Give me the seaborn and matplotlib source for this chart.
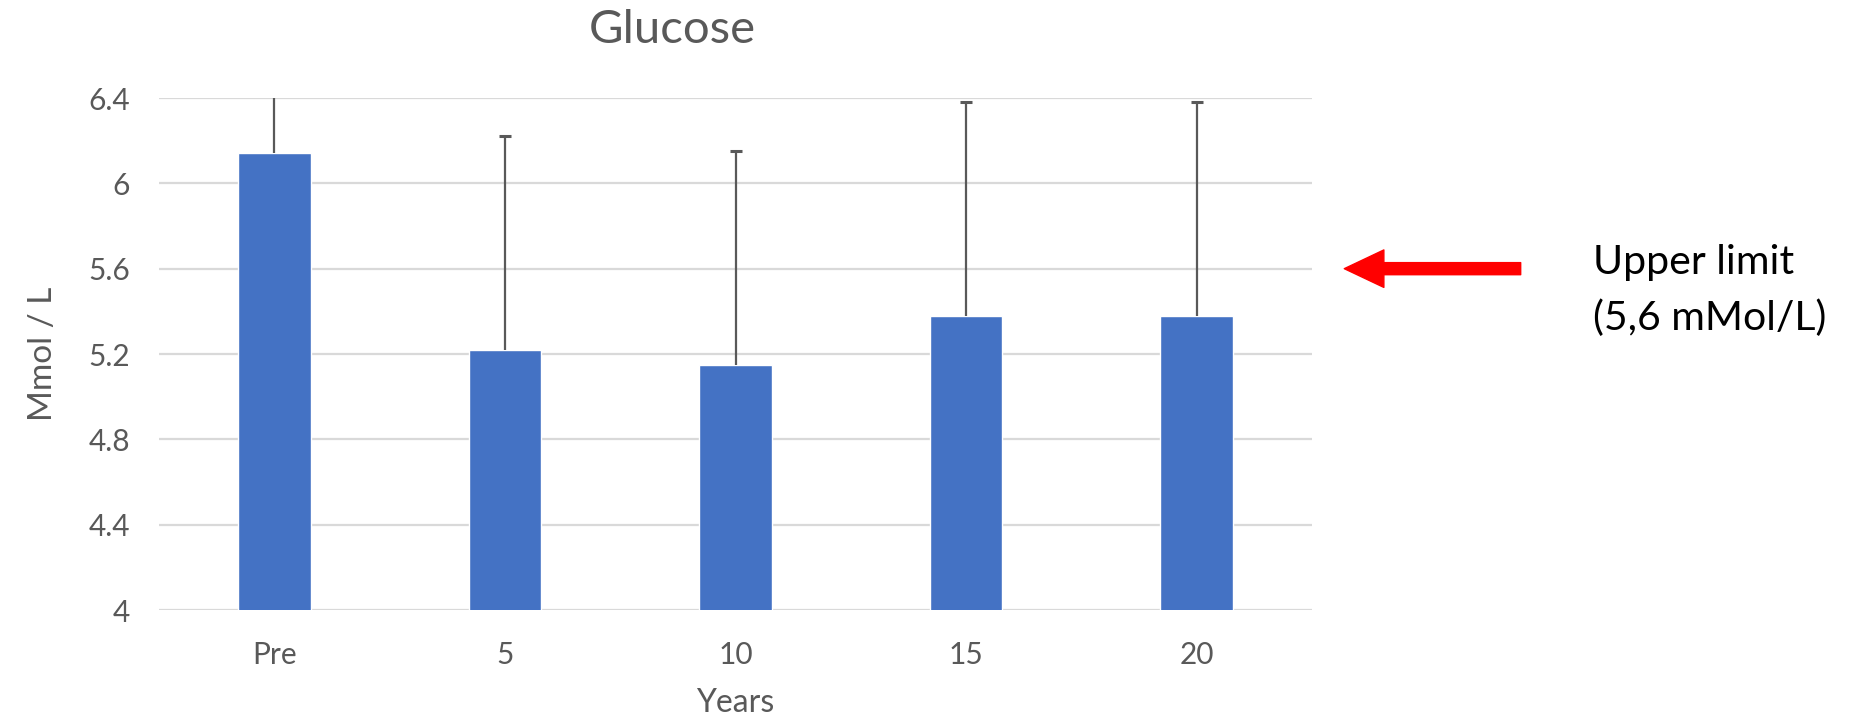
#!/usr/bin/env python
# coding: utf-8

# Glucose bar chart with upper-only error bars and an "upper limit" arrow

import numpy as np
import pandas as pd
import matplotlib
matplotlib.use("Agg")
import matplotlib.pyplot as plt
import seaborn as sns

# data
years = ["Pre", "5", "10", "15", "20"]
glucose = [6.14, 5.22, 5.15, 5.38, 5.38]
glucose_sd = [1.0, 1.0, 1.0, 1.0, 1.0]
ytick_vals = [4.0, 4.4, 4.8, 5.2, 5.6, 6.0, 6.4]
ytick_labels = ["4", "4.4", "4.8", "5.2", "5.6", "6", "6.4"]
upper_limit = 5.6

sns.set_style("white")
plt.rcParams['font.family'] = ['Lato', 'DejaVu Sans']

grey_txt = "#595959"
bar_col = "#4472C4"

df = pd.DataFrame({'years': years, 'glucose': glucose})

fig = plt.figure(figsize=(18.69, 7.15), dpi=100)
ax = fig.add_axes([159/1869, 1 - 610/715, (1312-159)/1869, (610-98)/715])

sns.barplot(data=df, x='years', y='glucose', color=bar_col, saturation=1,
            width=0.315, errorbar=None, ax=ax, zorder=2)

# only the upper half of the error bars (no cap at the bar top)
xs = np.arange(len(years))
tops = np.array(glucose) + np.array(glucose_sd)
ax.vlines(xs, glucose, tops, color=grey_txt, linewidth=1.6, zorder=3)
ax.plot(xs, tops, linestyle='none', marker='_', markersize=9,
        markeredgewidth=2.2, color=grey_txt, zorder=3)

ax.set_ylim(4, 6.4)
ax.set_xlim(-0.5, 4.5)
ax.set_yticks(ytick_vals)
ax.set_yticklabels(ytick_labels)
ax.yaxis.grid(True, color="#D9D9D9", linewidth=1.6, zorder=0)
ax.set_axisbelow(True)
for s in ax.spines.values():
    s.set_visible(False)
ax.tick_params(axis='both', length=0, labelcolor=grey_txt, labelsize=21.5)
ax.tick_params(axis='y', pad=21)
ax.tick_params(axis='x', pad=22)

ax.set_xlabel("Years", fontsize=23, color=grey_txt, labelpad=14)
ax.set_ylabel("Mmol / L", fontsize=24, color=grey_txt, labelpad=22)

fig.text(672/1869, 1 - 30/715, "Glucose", fontsize=34, color=grey_txt,
         ha='center', va='center')

# red arrow pointing at the upper limit
trans = matplotlib.transforms.blended_transform_factory(ax.transAxes, ax.transData)
ax.annotate("", xy=(1.028, upper_limit), xycoords=trans,
            xytext=(1.181, upper_limit), textcoords=trans,
            arrowprops=dict(arrowstyle="simple,head_length=0.95,head_width=0.9,tail_width=0.29",
                            mutation_scale=30, color="#FF0000", shrinkA=0, shrinkB=0),
            annotation_clip=False)

fig.text(1593/1869, 1 - 262/715, "Upper limit", fontsize=29.5, color="black",
         ha='left', va='center')
fig.text(1593/1869, 1 - 318/715, "(5,6 mMol/L)", fontsize=29.5, color="black",
         ha='left', va='center')

plt.savefig("out.png", dpi=100)
